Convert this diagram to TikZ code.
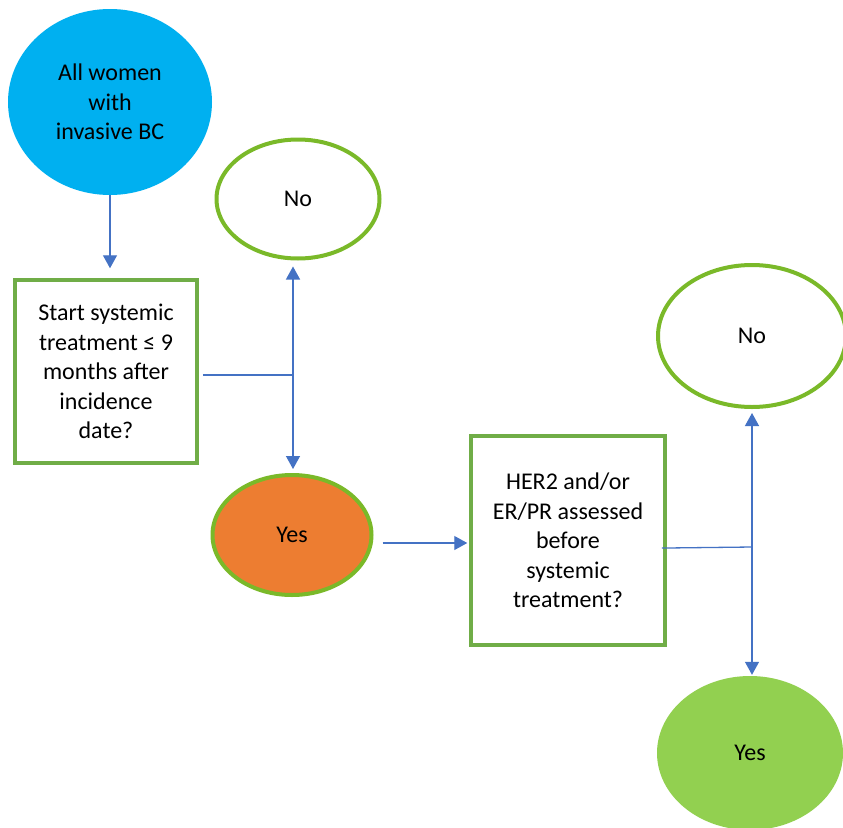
\documentclass[tikz,border=0pt]{standalone}
\usepackage{fontspec}
\setmainfont{Carlito}
\usetikzlibrary{shapes.geometric,arrows.meta}
\definecolor{skyfill}{HTML}{00B0F0}
\definecolor{linkblue}{HTML}{4472C4}
\definecolor{boxgreen}{HTML}{70AD47}
\definecolor{ringgreen}{HTML}{7AB929}
\definecolor{yesorange}{HTML}{ED7D31}
\definecolor{yesgreen}{HTML}{92D050}
\tikzset{
  oval/.style={ellipse, inner sep=0pt, align=center, font=\fontsize{24}{29.5}\selectfont},
  ringoval/.style={oval, draw=ringgreen, line width=4pt},
  qbox/.style={rectangle, draw=boxgreen, line width=3.5pt, fill=white, inner sep=0pt,
    align=center, font=\fontsize{24}{29.5}\selectfont},
  link/.style={draw=linkblue, line width=1.3pt},
  arrowlink/.style={link, -{Triangle[width=14pt,length=13pt]}},
}
\begin{document}
\begin{tikzpicture}[x=1pt,y=-1pt]
  \useasboundingbox (0,0) rectangle (843,827);
  \clip (0,0) rectangle (843,827);
  \fill[white] (0,0) rectangle (843,827);

  % start node
  \node[oval, fill=skyfill, minimum width=204pt, minimum height=186pt] (start) at (110,102)
    {All women\\with\\invasive BC};

  % first question and its outcomes
  \node[qbox, minimum width=182pt, minimum height=183pt] (q1) at (106,371.5)
    {Start systemic\\treatment ≤ 9\\months after\\incidence\\date?};
  \node[ringoval, fill=white, minimum width=163pt, minimum height=119pt] (no1) at (298,199) {No};
  \node[ringoval, fill=yesorange, minimum width=159pt, minimum height=120pt] (yes1) at (292,535) {Yes};

  % second question and its outcomes
  \node[qbox, minimum width=194pt, minimum height=209pt] (q2) at (568,540.5)
    {HER2 and/or\\ER/PR assessed\\before\\systemic\\treatment?};
  \node[ringoval, fill=white, minimum width=188pt, minimum height=142pt] (no2) at (752,336) {No};
  \node[oval, fill=yesgreen, minimum width=186pt, minimum height=154pt] (yes2) at (750,753) {Yes};

  % branch points
  \coordinate (j1) at (293,375);
  \coordinate (j2) at (752,547);

  % connectors
  \draw[arrowlink, shorten >=10pt] (start.south) -- (q1.north -| start.south);
  \draw[link, shorten <=4pt] (q1.east |- j1) -- (j1);
  \draw[arrowlink, shorten >=6pt] (j1) -- (no1.south -| j1);
  \draw[arrowlink, shorten >=4pt] (j1) -- (yes1.north -| j1);
  \draw[arrowlink, shorten <=9pt, shorten >=2pt]
    ([yshift=-8pt]yes1.east) -- ([yshift=-8pt]yes1.east -| q2.west);
  \draw[link, shorten <=-5pt] ([yshift=-7.5pt]q2.east) -- (j2);
  \draw[arrowlink, shorten >=4pt] (j2) -- (no2.south -| j2);
  \draw[arrowlink, shorten >=1pt] (j2) -- (yes2.north -| j2);
\end{tikzpicture}
\end{document}
